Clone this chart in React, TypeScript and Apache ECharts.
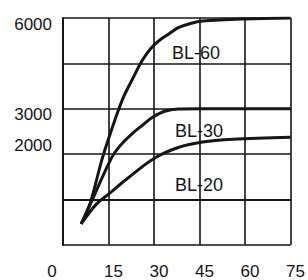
import React, { useEffect, useRef } from "react";
import * as echarts from "echarts";

const xTicks = [0, 15, 30, 45, 60, 75];
const yTickLabels = [6000, 3000, 2000];

const bl60X = [6, 9, 13, 17, 20, 23, 26, 29, 32, 35, 38, 42, 46, 60, 75];
const bl60Y = [-800, -100, 1380, 2600, 3400, 4000, 4580, 5000, 5280, 5480, 5680, 5820, 5900, 5970, 6000];

const bl30X = [6, 9, 16, 19, 23, 26.5, 29.5, 33.5, 38, 45, 75];
const bl30Y = [-800, -150, 1380, 1800, 2200, 2480, 2720, 2920, 2990, 3000, 3000];

const bl20X = [6, 11, 15, 21, 30, 38, 46, 56, 75];
const bl20Y = [-800, -150, 180, 680, 1360, 1720, 1900, 1990, 2060];

const seriesNames = ["BL-60", "BL-30", "BL-20"];

const FONT = "Liberation Sans, Arial, sans-serif";
const INK = "#151515";

export default function App() {
  const ref = useRef<HTMLDivElement>(null);
  useEffect(() => {
    if (!ref.current) return;
    const chart = echarts.init(ref.current, undefined, { renderer: "svg" });
    const mk = (xs: number[], ys: number[]) => xs.map((x, i) => [x, ys[i]]);
    const lineSeries = (name: string, data: number[][]) => ({
      name,
      type: "line",
      data,
      smooth: 0.35,
      showSymbol: false,
      symbol: "none",
      yAxisIndex: 0,
      lineStyle: { color: INK, width: 3 },
      z: 5,
    });
    chart.setOption({
      animation: false,
      backgroundColor: "#ffffff",
      grid: { left: 63, right: 14, top: 18, bottom: 28, containLabel: false },
      xAxis: {
        type: "value",
        min: xTicks[0],
        max: xTicks[xTicks.length - 1],
        interval: 15,
        axisLine: { show: true, lineStyle: { color: INK, width: 2 } },
        axisTick: { show: false },
        splitLine: { show: true, lineStyle: { color: INK, width: 1.6 } },
        axisLabel: {
          margin: 18,
          formatter: (v: number) => (v === 0 ? `{l|${v}}` : `{r|${v}}`),
          rich: {
            l: { fontSize: 17, fontFamily: FONT, color: INK, padding: [0, 22, 0, 0] },
            r: { fontSize: 17, fontFamily: FONT, color: INK, padding: [0, 0, 0, 10] },
          },
        },
      },
      yAxis: [
        {
          type: "value",
          min: -1500,
          max: 6000,
          interval: 500,
          axisLine: { show: true, lineStyle: { color: INK, width: 2 } },
          axisTick: { show: false },
          splitLine: { show: false },
          axisLabel: {
            margin: 11,
            fontSize: 17,
            fontFamily: FONT,
            color: INK,
            verticalAlign: "top",
            lineHeight: 12,
            formatter: (v: number) => (yTickLabels.includes(v) ? String(v) : ""),
          },
        },
        {
          type: "value",
          min: -1500,
          max: 6000,
          interval: 1500,
          position: "left",
          axisLine: { show: false },
          axisTick: { show: false },
          axisLabel: { show: false },
          splitLine: { show: true, lineStyle: { color: INK, width: 1.6 } },
        },
      ],
      series: [
        lineSeries(seriesNames[0], mk(bl60X, bl60Y)),
        lineSeries(seriesNames[1], mk(bl30X, bl30Y)),
        lineSeries(seriesNames[2], mk(bl20X, bl20Y)),
      ],
      graphic: [
        { type: "text", x: 196, y: 53, z: 10, style: { text: seriesNames[0], fontSize: 18, fontFamily: FONT, fill: INK, align: "center", verticalAlign: "middle" } },
        { type: "text", x: 199, y: 131, z: 10, style: { text: seriesNames[1], fontSize: 18, fontFamily: FONT, fill: INK, align: "center", verticalAlign: "middle" } },
        { type: "text", x: 199, y: 185, z: 10, style: { text: seriesNames[2], fontSize: 18, fontFamily: FONT, fill: INK, align: "center", verticalAlign: "middle" } },
      ],
    });
    return () => chart.dispose();
  }, []);
  return (
    <div
      ref={ref}
      style={{ position: "fixed", left: 0, top: 0, width: 308, height: 280, background: "#fff" }}
    />
  );
}
